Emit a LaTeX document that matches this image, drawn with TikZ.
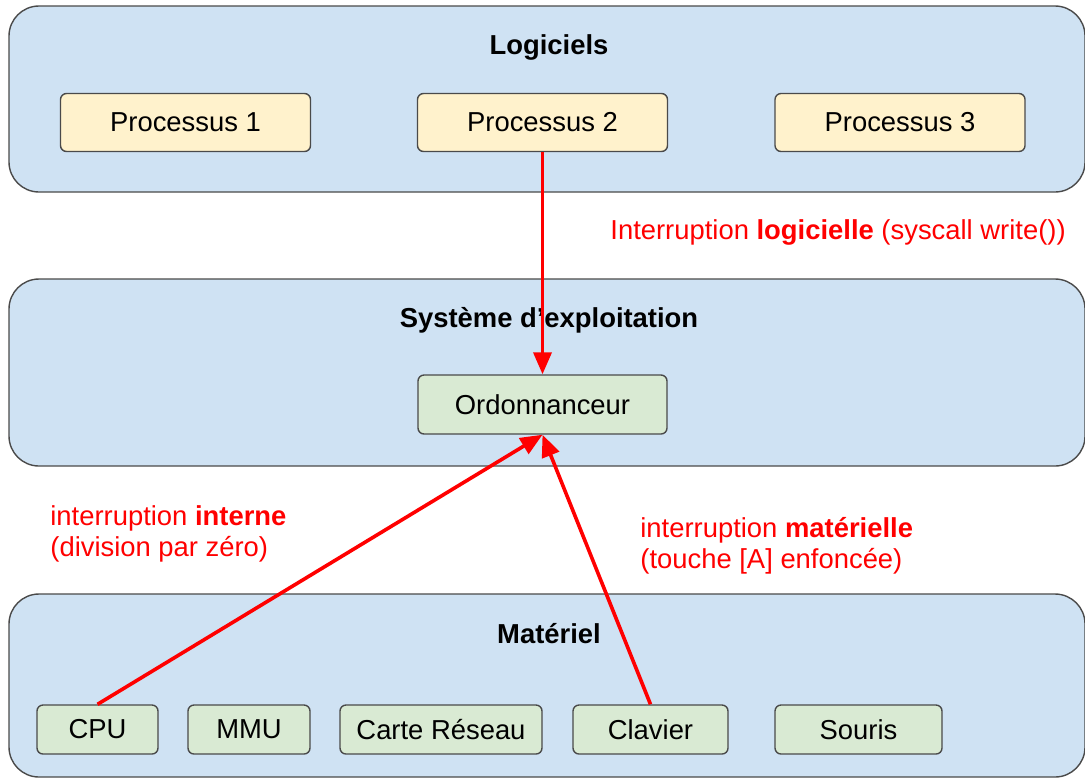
\documentclass[tikz,border=0pt]{standalone}
\usepackage{fontspec}
\setmainfont{Liberation Sans}
\usetikzlibrary{arrows.meta,positioning,calc}
\definecolor{couche}{HTML}{CFE2F3}
\definecolor{jaune}{HTML}{FFF2CC}
\definecolor{vert}{HTML}{D9EAD3}
\definecolor{bord}{HTML}{4A4A4A}
\definecolor{rouge}{HTML}{FF0000}
\begin{document}
\begin{tikzpicture}[x=0.5pt,y=-0.5pt]
\tikzset{layer/.style={draw=bord,line width=0.7pt,fill=couche,rounded corners=15pt,minimum width=538pt}}
\tikzset{boite/.style={draw=bord,line width=0.7pt,rounded corners=3pt,font=\fontsize{13.7}{16}\selectfont,inner sep=0pt}}
\tikzset{proc/.style={boite,fill=jaune,minimum width=125pt,minimum height=29pt}}
\tikzset{hw/.style={boite,fill=vert,minimum height=24.5pt}}
\tikzset{titre/.style={font=\fontsize{13.7}{16}\selectfont\bfseries}}
\tikzset{irq/.style={draw=rouge,line width=1.8pt,-{Triangle[length=11pt,width=9pt]}}}
\tikzset{irqlabel/.style={text=rouge,font=\fontsize{13.7}{15.5}\selectfont,align=left,anchor=west,inner sep=0pt}}
\useasboundingbox (0,0) rectangle (1085,778);

% les trois couches
\node[layer,minimum height=93pt](logiciels) at (547,99) {};
\node[layer,minimum height=93.5pt](systeme) at (547,372.5) {};
\node[layer,minimum height=91.5pt](materiel) at (547,685.5) {};
\node[titre] at (549,47) {Logiciels};
\node[titre] at (549,320) {Système d’exploitation};
\node[titre] at (549,634) {Matériel};

% processus
\node[proc](P1) at (185.5,122.5) {Processus 1};
\node[proc](P2) at (542.5,122.5) {Processus 2};
\node[proc](P3) at (900,122.5) {Processus 3};

\node[boite,fill=vert,minimum width=124.5pt,minimum height=29.5pt](ordo) at (542.5,404.5) {Ordonnanceur};

% materiel
\node[hw,minimum width=60.5pt](cpu) at (97.5,729.5) {CPU};
\node[hw,minimum width=61pt](mmu) at (249,729.5) {MMU};
\node[hw,minimum width=101pt](reseau) at (441,729.5) {Carte Réseau};
\node[hw,minimum width=77.5pt](clavier) at (650.5,729.5) {Clavier};
\node[hw,minimum width=83.5pt](souris) at (858.5,729.5) {Souris};

% interruptions
\draw[irq] (P2.south) -- (ordo.north);
\draw[irq] (cpu.north) -- (ordo.south);
\draw[irq] (clavier.north) -- (ordo.south);
\node[irqlabel] at (610,232) {Interruption \textbf{logicielle} (syscall write())};
\node[irqlabel] at (50,534) {interruption \textbf{interne}\\(division par zéro)};
\node[irqlabel] at (640,546) {interruption \textbf{matérielle}\\(touche [A] enfoncée)};
\end{tikzpicture}
\end{document}
